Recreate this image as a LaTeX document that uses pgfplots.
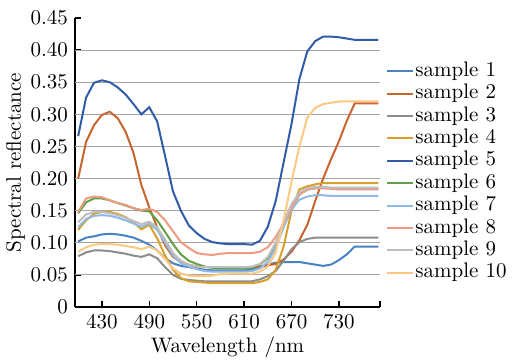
\documentclass[border=0pt]{standalone}
\usepackage{pgfplots}
\usepackage{pgfplotstable}
\pgfplotsset{compat=1.18}
\definecolor{c1}{RGB}{72,130,195}
\definecolor{c2}{RGB}{200,100,45}
\definecolor{c3}{RGB}{140,140,140}
\definecolor{c4}{RGB}{215,160,40}
\definecolor{c5}{RGB}{50,92,170}
\definecolor{c6}{RGB}{100,160,70}
\definecolor{c7}{RGB}{145,185,228}
\definecolor{c8}{RGB}{238,155,130}
\definecolor{c9}{RGB}{190,190,190}
\definecolor{c10}{RGB}{252,200,130}
\pgfplotstableread{
x s1 s2 s3 s4 s5 s6 s7 s8 s9 s10
400 .102 .200 .079 .120 .266 .146 .124 .148 .132 .086
410 .108 .257 .085 .135 .326 .163 .137 .169 .144 .093
420 .110 .283 .088 .145 .349 .169 .142 .172 .148 .097
430 .113 .299 .088 .148 .353 .169 .143 .171 .148 .098
440 .114 .304 .087 .148 .350 .166 .142 .166 .146 .098
450 .113 .294 .085 .145 .342 .162 .139 .162 .143 .097
460 .111 .273 .083 .140 .331 .158 .135 .159 .139 .095
470 .108 .240 .080 .132 .316 .154 .130 .154 .134 .093
480 .103 .190 .078 .121 .300 .150 .125 .151 .129 .090
490 .097 .155 .082 .128 .311 .149 .130 .153 .133 .094
500 .088 .124 .076 .107 .289 .135 .120 .148 .124 .088
510 .076 .096 .062 .080 .235 .117 .100 .135 .105 .075
520 .068 .078 .050 .058 .180 .098 .080 .118 .084 .060
530 .064 .070 .044 .045 .150 .082 .068 .101 .072 .052
540 .062 .066 .042 .040 .127 .072 .063 .092 .066 .049
550 .060 .063 .041 .039 .115 .067 .059 .084 .063 .048
560 .058 .062 .040 .038 .106 .063 .056 .082 .062 .048
570 .057 .062 .040 .037 .101 .061 .055 .081 .062 .049
580 .057 .062 .040 .037 .099 .060 .055 .083 .062 .051
590 .057 .062 .040 .037 .098 .060 .055 .084 .062 .052
600 .057 .062 .040 .037 .098 .060 .055 .084 .062 .052
610 .057 .062 .040 .037 .098 .060 .055 .084 .062 .052
620 .058 .062 .040 .037 .097 .061 .056 .084 .063 .052
630 .062 .063 .043 .039 .103 .066 .060 .086 .067 .055
640 .066 .065 .048 .043 .125 .076 .070 .093 .078 .063
650 .069 .067 .056 .058 .165 .095 .092 .109 .100 .085
660 .070 .074 .072 .094 .225 .125 .125 .130 .132 .135
670 .070 .086 .090 .150 .285 .155 .152 .155 .160 .195
680 .070 .104 .101 .183 .355 .175 .167 .175 .178 .250
690 .068 .128 .106 .188 .398 .183 .172 .183 .185 .295
700 .066 .165 .108 .191 .414 .185 .174 .185 .187 .310
710 .064 .200 .108 .193 .421 .185 .174 .185 .187 .316
720 .066 .230 .108 .193 .421 .185 .173 .184 .186 .318
730 .073 .258 .108 .193 .420 .184 .173 .183 .186 .320
740 .082 .290 .108 .193 .418 .184 .173 .183 .186 .320
750 .094 .317 .108 .193 .416 .184 .173 .183 .186 .320
760 .094 .317 .108 .193 .416 .184 .173 .183 .186 .320
770 .094 .317 .108 .193 .416 .184 .173 .183 .186 .320
780 .094 .317 .108 .193 .416 .184 .173 .183 .186 .320
}\data
\begin{document}
\begin{tikzpicture}
\useasboundingbox (-37.5pt,-27.5pt) rectangle (218.5pt,153.5pt);
\begin{axis}[
  at={(0,0)}, anchor=south west,
  scale only axis, width=152.5pt, height=144.5pt,
  xmin=396, xmax=782, ymin=0, ymax=0.45,
  axis lines=left,
  axis line style={-, black, line width=0.7pt},
  xtick={430,490,550,610,670,730,782},
  xticklabels={430,490,550,610,670,730,{}},
  ytick={0,0.05,0.10,0.15,0.20,0.25,0.30,0.35,0.40,0.45},
  yticklabels={0,0.05,0.10,0.15,0.20,0.25,0.30,0.35,0.40,0.45},
  extra y ticks={0.05,0.10,0.15,0.20,0.25,0.30,0.35,0.40},
  extra y tick labels={},
  extra y tick style={ymajorgrids=true, major tick length=0pt},
  grid style={color=black!35, line width=0.5pt},
  tick align=inside,
  major tick length=3pt,
  tick style={black, line width=0.7pt},
  tick label style={font=\fontsize{10.5}{12}\selectfont},
  label style={font=\fontsize{10.5}{12}\selectfont},
  xlabel={Wavelength /nm},
  ylabel={Spectral reflectance},
  xlabel style={yshift=3pt},
  ylabel style={yshift=-4pt},
  legend cell align=left,
  legend style={at={(1,0.467)}, anchor=west, xshift=3pt, draw=none, fill=none,
    row sep=1.2pt, inner sep=0pt, font=\fontsize{10.5}{12}\selectfont,
    nodes={inner sep=0.5pt, text height=7pt, text depth=2pt}},
  legend image code/.code={\draw[#1] (0pt,0pt) -- (13pt,0pt);},
  every axis plot/.append style={line width=1pt, mark=none},
]
\addplot[c1] table[x=x,y=s1]{\data};
\addlegendentry{sample 1}
\addplot[c2] table[x=x,y=s2]{\data};
\addlegendentry{sample 2}
\addplot[c3] table[x=x,y=s3]{\data};
\addlegendentry{sample 3}
\addplot[c4] table[x=x,y=s4]{\data};
\addlegendentry{sample 4}
\addplot[c5] table[x=x,y=s5]{\data};
\addlegendentry{sample 5}
\addplot[c6] table[x=x,y=s6]{\data};
\addlegendentry{sample 6}
\addplot[c7] table[x=x,y=s7]{\data};
\addlegendentry{sample 7}
\addplot[c8] table[x=x,y=s8]{\data};
\addlegendentry{sample 8}
\addplot[c9] table[x=x,y=s9]{\data};
\addlegendentry{sample 9}
\addplot[c10] table[x=x,y=s10]{\data};
\addlegendentry{sample 10}
\end{axis}
\end{tikzpicture}
\end{document}
